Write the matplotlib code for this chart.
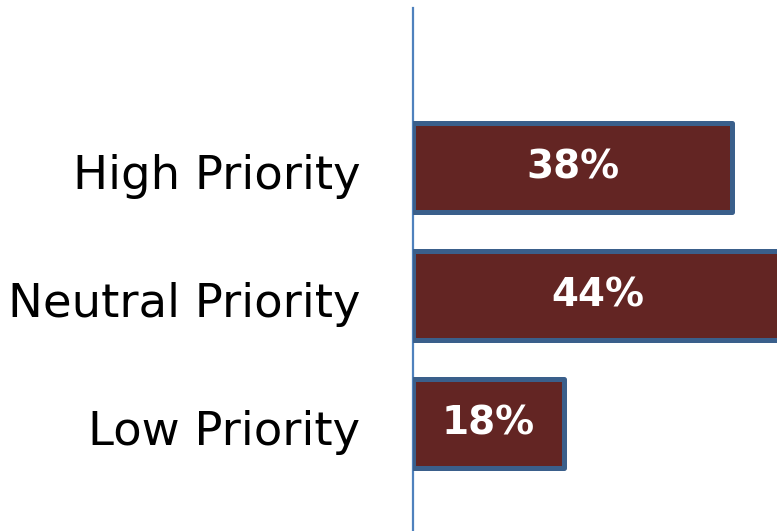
import numpy as np
import matplotlib.pyplot as plt
from matplotlib.transforms import ScaledTranslation

categories = ["High Priority", "Neutral Priority", "Low Priority"]
values = [38, 44, 18]
labels = ["38%", "44%", "18%"]

fig = plt.figure(figsize=(7.77, 5.31), dpi=100)
ax = fig.add_axes([413 / 777, 0.0, 1 - 413 / 777, 1 - 8 / 531])

y = np.arange(len(categories))
bars = ax.barh(y, values, height=0.70, color="#632523", edgecolor="#3A5F8B",
               linewidth=3.6, zorder=2)
for b in bars:
    b.set_joinstyle("round")

for yi, v, lab in zip(y, values, labels):
    ax.text(v / 2, yi, lab, ha="center", va="center", color="white",
            fontsize=28, fontweight="bold", zorder=3)

ax.set_xlim(0, 364 / 8.4)
ax.set_ylim((531 - 167.5) / 128, -(167.5 - 8) / 128)
ax.set_yticks(y)
ax.set_yticklabels(categories, fontsize=33.5)
ax.set_xticks([])
ax.tick_params(axis="y", length=0, pad=38)

# nudge the category labels down a little
shift = ScaledTranslation(0, -4 / 100, fig.dpi_scale_trans)
for t in ax.get_yticklabels():
    t.set_transform(t.get_transform() + shift)

for s in ["top", "right", "bottom"]:
    ax.spines[s].set_visible(False)
ax.spines["left"].set_color("#4F81BD")
ax.spines["left"].set_linewidth(1.6)
ax.spines["left"].set_zorder(1)

fig.savefig("out.png", dpi=100)
